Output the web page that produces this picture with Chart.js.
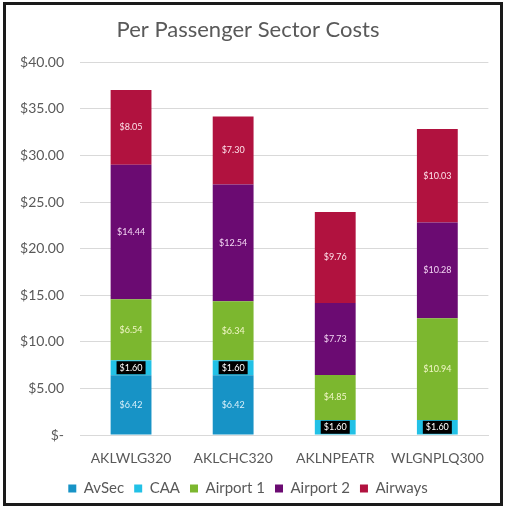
<!DOCTYPE html>
<html>
<head>
<meta charset="utf-8">
<script src="https://cdn.jsdelivr.net/npm/chart.js@4"></script>
<style>
  body { margin: 0; background: #fff; }
  #frame {
    position: absolute; left: 3px; top: 2px;
    width: 500px; height: 504px;
    border: 3px solid #1a1a1a; box-sizing: border-box;
  }
  #frame canvas { display: block; }
</style>
</head>
<body>
<div id="frame"><canvas id="myChart" width="494" height="498"></canvas></div>
<script>
// chart data
const sectors = ['AKLWLG320', 'AKLCHC320', 'AKLNPEATR', 'WLGNPLQ300'];
const avsec = [6.42, 6.42, 0, 0];
const caa = [1.60, 1.60, 1.60, 1.60];
const airport1 = [6.54, 6.34, 4.85, 10.94];
const airport2 = [14.44, 12.54, 7.73, 10.28];
const airways = [8.05, 7.30, 9.76, 10.03];
const yTicks = [0, 5, 10, 15, 20, 25, 30, 35, 40];

const textGrey = '#595959';
const fontFamily = 'Lato, "Open Sans", sans-serif';

// draws the $ value in the middle of every segment
const segmentLabels = {
    id: 'segmentLabels',
    afterDatasetsDraw (chart) {
        const ctx = chart.ctx;
        ctx.save();
        ctx.font = '9px ' + fontFamily;
        ctx.textAlign = 'center';
        ctx.textBaseline = 'middle';
        chart.data.datasets.forEach((ds, i) => {
            const meta = chart.getDatasetMeta(i);
            meta.data.forEach((bar, j) => {
                const v = ds.data[j];
                if (!v) return;
                const txt = '$' + v.toFixed(2);
                const cy = (bar.y + bar.base) / 2;
                if (ds.boxed) {
                    const w = ctx.measureText(txt).width + 6;
                    ctx.fillStyle = '#000';
                    ctx.fillRect(bar.x - w / 2, cy - 6.5, w, 13);
                }
                ctx.fillStyle = ds.labelColor;
                ctx.fillText(txt, bar.x, cy);
            });
        });
        ctx.restore();
    }
};

function chart () {
    const ctx = document.getElementById('myChart').getContext('2d');
    new Chart(ctx, {
        type: 'bar',
        data: {
            labels: sectors,
            datasets: [
                { label: 'AvSec', data: avsec, backgroundColor: '#1793c6', labelColor: '#d9f0fa' },
                { label: 'CAA', data: caa, backgroundColor: '#22c1e6', labelColor: '#ffffff', boxed: true },
                { label: 'Airport 1', data: airport1, backgroundColor: '#7cb72f', labelColor: '#f2f6c8' },
                { label: 'Airport 2', data: airport2, backgroundColor: '#6b0b72', labelColor: '#f3d6f3' },
                { label: 'Airways', data: airways, backgroundColor: '#b1123f', labelColor: '#fde2ea' }
            ]
        },
        plugins: [segmentLabels],
        options: {
            responsive: false,
            animation: false,
            layout: { padding: { left: 0, right: 10, top: 0, bottom: -3 } },
            datasets: { bar: { categoryPercentage: 0.8, barPercentage: 0.5 } },
            plugins: {
                title: {
                    display: true,
                    text: 'Per Passenger Sector Costs',
                    color: textGrey,
                    font: { family: fontFamily, size: 22, weight: 'normal' },
                    padding: { top: 12, bottom: 19 }
                },
                legend: {
                    position: 'bottom',
                    labels: {
                        color: textGrey,
                        font: { family: fontFamily, size: 15 },
                        boxWidth: 8,
                        boxHeight: 8,
                        padding: 10
                    }
                },
                tooltip: { enabled: false }
            },
            scales: {
                x: {
                    stacked: true,
                    afterFit (scale) { scale.height = 36; },
                    grid: { display: false, drawTicks: false },
                    border: { color: '#d9d9d9' },
                    ticks: {
                        color: textGrey,
                        font: { family: fontFamily, size: 14 },
                        padding: 15,
                        minRotation: 0,
                        maxRotation: 0,
                        autoSkip: false
                    }
                },
                y: {
                    stacked: true,
                    min: 0,
                    max: 40,
                    afterFit (scale) { scale.width = 74; },
                    afterBuildTicks (scale) { scale.ticks = yTicks.map(v => ({ value: v })); },
                    grid: { color: '#d9d9d9', drawTicks: false },
                    border: { display: false },
                    ticks: {
                        color: textGrey,
                        font: { family: fontFamily, size: 14 },
                        padding: 16,
                        callback: v => v === 0 ? '$-' : '$' + v.toFixed(2)
                    }
                }
            }
        }
    });
}

window.onload = chart;
</script>
</body>
</html>
